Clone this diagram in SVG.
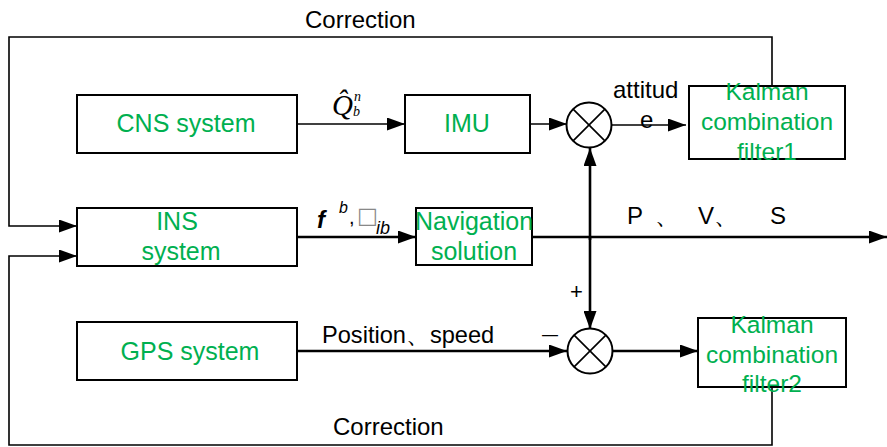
<svg xmlns="http://www.w3.org/2000/svg" width="887" height="447" viewBox="0 0 887 447">
<defs>
<style>
.box{fill:#fff;stroke:#000;stroke-width:2}
.g{fill:#00b050;font-family:"Liberation Sans",Arial,sans-serif;font-size:25px;text-anchor:middle}
.kf{font-size:24.5px}
.k{fill:#000;font-family:"Liberation Sans",Arial,sans-serif;font-size:24px}
.ln{fill:none;stroke:#000;stroke-width:1.6}
.th{fill:none;stroke:#000;stroke-width:2.6}
.sum{fill:#fff;stroke:#000;stroke-width:2}
.it{font-family:"Liberation Serif",serif;font-style:italic}
.si{font-family:"Liberation Sans",sans-serif;font-style:italic}
</style>
<marker id="ah" viewBox="0 0 18 13" refX="18" refY="6.5" markerWidth="18" markerHeight="13" markerUnits="userSpaceOnUse" orient="auto">
<path d="M0,0 L18,6.5 L0,13 Z" fill="#000"/>
</marker>
</defs>

<g id="connectors">
<polyline class="ln" points="772,86 772,37 9,37 9,226 77,226" marker-end="url(#ah)"/>
<polyline class="ln" points="698,387 772,387 772,445 9,445 9,256 77,256" marker-end="url(#ah)"/>
<line class="ln" x1="297" y1="124" x2="405" y2="124" marker-end="url(#ah)"/>
<line class="ln" x1="530" y1="124" x2="567" y2="124" marker-end="url(#ah)"/>
<line class="ln" x1="611" y1="125" x2="686" y2="125" marker-end="url(#ah)"/>
<line class="th" x1="297" y1="237" x2="416" y2="237" marker-end="url(#ah)"/>
<line class="th" x1="532" y1="237" x2="887" y2="237" marker-end="url(#ah)"/>
<line class="th" x1="590" y1="240" x2="590" y2="148" marker-end="url(#ah)"/>
<line class="th" x1="590" y1="236" x2="590" y2="329" marker-end="url(#ah)"/>
<line class="th" x1="297" y1="351" x2="567" y2="351" marker-end="url(#ah)"/>
<line class="th" x1="612" y1="351" x2="698" y2="351" marker-end="url(#ah)"/>
</g>

<g id="cns">
<rect class="box" x="77" y="95" width="220" height="58"/>
<text class="g" x="186" y="132">CNS system</text>
</g>
<g id="imu">
<rect class="box" x="405" y="95" width="125" height="58"/>
<text class="g" x="467" y="132">IMU</text>
</g>
<g id="ins">
<rect class="box" x="77" y="208" width="220" height="58"/>
<text class="g" x="177" y="230">INS</text>
<text class="g" x="181" y="260">system</text>
</g>
<g id="nav">
<rect class="box" x="416" y="208" width="116" height="57"/>
<text class="g" x="474" y="230">Navigation</text>
<text class="g" x="474" y="260">solution</text>
</g>
<g id="gps">
<rect class="box" x="77" y="322" width="220" height="58"/>
<text class="g" x="190" y="360">GPS system</text>
</g>
<g id="kalman1">
<rect class="box" x="689" y="86" width="156" height="73"/>
<text class="g kf" x="767" y="100">Kalman</text>
<text class="g kf" x="767" y="130">combination</text>
<text class="g kf" x="767" y="160">filter1</text>
</g>
<g id="kalman2">
<rect class="box" x="698" y="318" width="148" height="69"/>
<text class="g kf" x="772" y="333">Kalman</text>
<text class="g kf" x="772" y="363">combination</text>
<text class="g kf" x="772" y="392">filter2</text>
</g>
<g id="sum1">
<circle class="sum" cx="589" cy="125" r="22.5"/>
<path class="ln" d="M573.1,109.1 L604.9,140.9 M604.9,109.1 L573.1,140.9"/>
</g>
<g id="sum2">
<circle class="sum" cx="590" cy="351" r="22.5"/>
<path class="ln" d="M574.1,335.1 L605.9,366.9 M605.9,335.1 L574.1,366.9"/>
</g>

<g id="labels">
<text class="k" x="305" y="28">Correction</text>
<text class="k" x="333" y="435">Correction</text>
<text class="k" x="613" y="98">attitud</text>
<text class="k" x="640" y="128">e</text>
<text class="k" x="322" y="343" style="font-size:23.6px">Position、speed</text>
<text class="k" x="542" y="340" style="font-size:16px">—</text>
<text class="k" x="570" y="299" style="font-size:22px">+</text>
<text class="k" y="224"><tspan x="627">P</tspan><tspan x="655">、</tspan><tspan x="698">V</tspan><tspan x="714">、</tspan><tspan x="770">S</tspan></text>
<text class="it" x="332" y="115" style="font-size:29px">Q̂</text>
<text class="it" x="354" y="101" style="font-size:14px">n</text>
<text class="it" x="353" y="116" style="font-size:14px">b</text>
<text x="317" y="228" style="font-family:'Liberation Sans',sans-serif;font-style:italic;font-weight:bold;font-size:24px">f</text>
<text class="si" x="339" y="213" style="font-size:16px">b</text>
<text x="349" y="224" style="font-family:'Liberation Sans',sans-serif;font-size:20px">,</text>
<text x="357" y="223" style="font-family:'DejaVu Sans',sans-serif;font-size:22px;fill:#888">□</text>
<text class="si" x="376" y="234" style="font-size:18px">ib</text>
</g>
</svg>
